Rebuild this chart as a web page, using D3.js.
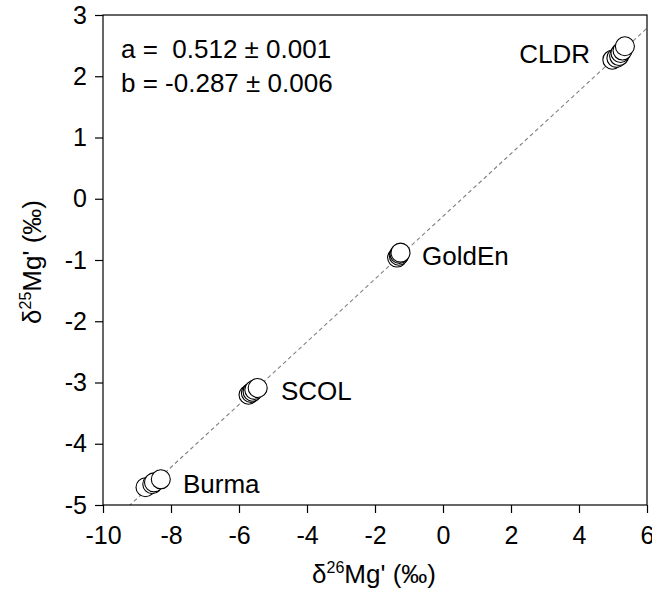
<!DOCTYPE html>
<html><head><meta charset="utf-8">
<script src="https://cdn.jsdelivr.net/npm/d3@7"></script>
<style>body{margin:0;background:#fff}svg{display:block}text{font-family:Arial,"Liberation Sans",sans-serif;fill:#000}</style>
</head><body>
<svg id="c" width="652" height="594"></svg>
<script>
const groups = ["Burma","SCOL","GoldEn","CLDR"];
const burmaX = [-8.75, -8.55, -8.5, -8.3];
const burmaY = [-4.71, -4.66, -4.63, -4.58];
const scolX = [-5.72, -5.65, -5.6, -5.55, -5.45];
const scolY = [-3.2, -3.17, -3.15, -3.12, -3.09];
const goldX = [-1.35, -1.3, -1.28, -1.25];
const goldY = [-0.96, -0.93, -0.9, -0.88];
const cldrX = [4.98, 5.1, 5.18, 5.22, 5.28, 5.35];
const cldrY = [2.27, 2.3, 2.33, 2.38, 2.42, 2.49];
const xTicks = [-10,-8,-6,-4,-2,0,2,4,6];
const yTicks = [-5,-4,-3,-2,-1,0,1,2,3];
const slopeA = 0.512, interceptB = -0.287;
const fitText = ["a =  0.512 \u00b1 0.001", "b = -0.287 \u00b1 0.006"];

const svg = d3.select("#c");
const L=103, R=647, T=15, B=505;
const x = d3.scaleLinear().domain([-10,6]).range([L,R]);
const y = d3.scaleLinear().domain([-5,3]).range([B,T]);

svg.append("defs").append("clipPath").attr("id","clip").append("rect")
  .attr("x",L).attr("y",T).attr("width",R-L).attr("height",B-T);

// regression line
const lx = [-10, 6];
svg.append("line").attr("clip-path","url(#clip)")
  .attr("x1",x(lx[0])).attr("y1",y(slopeA*lx[0]+interceptB))
  .attr("x2",x(lx[1])).attr("y2",y(slopeA*lx[1]+interceptB))
  .attr("stroke","#808080").attr("stroke-width",1.1).attr("stroke-dasharray","4,3");

// frame
svg.append("rect").attr("x",L).attr("y",T).attr("width",R-L).attr("height",B-T)
  .attr("fill","none").attr("stroke","#000").attr("stroke-width",1.2);

const fs = 25;
const xa = svg.append("g").attr("transform",`translate(0,${B})`)
  .call(d3.axisBottom(x).tickValues(xTicks).tickSize(8).tickPadding(13).tickFormat(d3.format("d")));
const ya = svg.append("g").attr("transform",`translate(${L},0)`)
  .call(d3.axisLeft(y).tickValues(yTicks).tickSize(8).tickPadding(8).tickFormat(d3.format("d")));
[xa,ya].forEach(a=>{
  a.select(".domain").remove();
  a.selectAll("line").attr("stroke","#000").attr("stroke-width",1.2);
  a.selectAll("text").attr("font-size",fs).attr("font-family","Arial, Liberation Sans, sans-serif").attr("fill","#000");
});
xa.selectAll("text").text(d=>d<0?"-"+Math.abs(d):d);
ya.selectAll("text").text(d=>d<0?"-"+Math.abs(d):d);

// points
const sets = [[burmaX,burmaY],[scolX,scolY],[goldX,goldY],[cldrX,cldrY]];
sets.forEach(([xs,ys])=>{
  svg.append("g").selectAll("circle").data(xs).join("circle")
    .attr("cx",d=>x(d)).attr("cy",(d,i)=>y(ys[i])).attr("r",9.5)
    .attr("fill","#fff").attr("stroke","#000").attr("stroke-width",1.1);
});

// labels
const lfs = 26;
const labelPos = {Burma:[183,493,"start"], SCOL:[281,400,"start"], GoldEn:[422,265,"start"], CLDR:[590,63,"end"]};
groups.forEach(g=>{
  const p = labelPos[g];
  svg.append("text").attr("x",p[0]).attr("y",p[1]).attr("text-anchor",p[2]).attr("font-size",lfs).text(g);
});

// fit text
fitText.forEach((t,i)=>{
  svg.append("text").attr("x",121).attr("y",58+i*34).attr("font-size",lfs).attr("xml:space","preserve").style("white-space","pre").text(t);
});

// axis titles
const xt = svg.append("text").attr("x",374).attr("y",583).attr("text-anchor","middle").attr("font-size",lfs);
xt.append("tspan").text("\u03b4");
xt.append("tspan").attr("font-size",16).attr("dy",-10).text("26");
xt.append("tspan").attr("dy",10).text("Mg' (\u2030)");

const yt = svg.append("text").attr("transform","translate(41,262) rotate(-90)").attr("text-anchor","middle").attr("font-size",lfs);
yt.append("tspan").text("\u03b4");
yt.append("tspan").attr("font-size",16).attr("dy",-10).text("25");
yt.append("tspan").attr("dy",10).text("Mg' (\u2030)");
</script>
</body></html>
